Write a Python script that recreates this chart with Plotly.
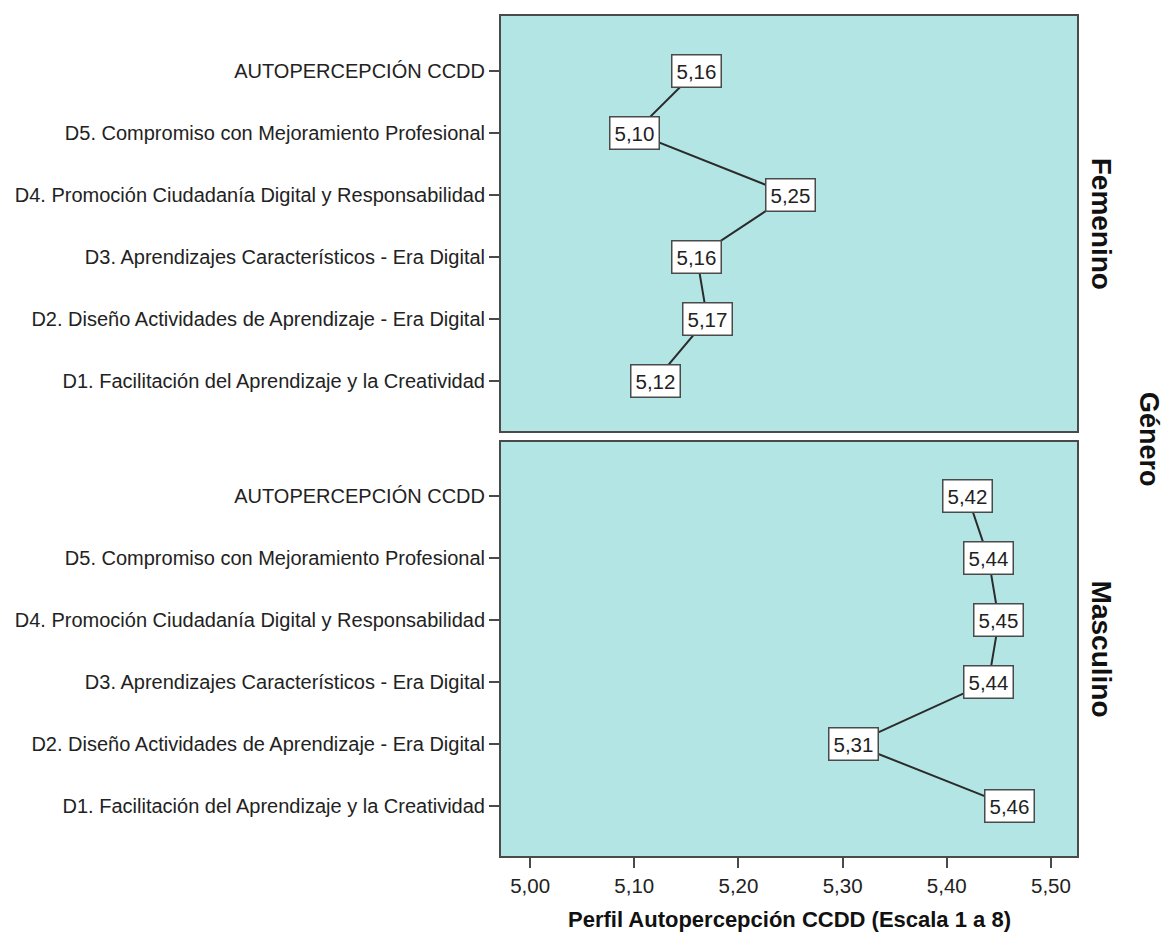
import plotly.graph_objects as go

categories = [
    "D1. Facilitación del Aprendizaje y la Creatividad",
    "D2. Diseño Actividades de Aprendizaje - Era Digital",
    "D3. Aprendizajes Característicos - Era Digital",
    "D4. Promoción Ciudadanía Digital y Responsabilidad",
    "D5. Compromiso con Mejoramiento Profesional",
    "AUTOPERCEPCIÓN CCDD",
]
femenino = [5.12, 5.17, 5.16, 5.25, 5.10, 5.16]
masculino = [5.46, 5.31, 5.44, 5.45, 5.44, 5.42]
x_ticks = [5.00, 5.10, 5.20, 5.30, 5.40, 5.50]
panel_names = ["Femenino", "Masculino"]

FONT = "Liberation Sans, Arial, sans-serif"
BG = "#b4e5e5"
FRAME = "#4a4a4a"
LINE = "#2b2b2b"
XR = [4.972, 5.525]
YR = [-0.81, 5.88]

fig = go.Figure()
fig.add_trace(go.Scatter(x=femenino, y=categories, mode="lines",
                         line=dict(color=LINE, width=2), xaxis="x", yaxis="y",
                         showlegend=False, hoverinfo="skip"))
fig.add_trace(go.Scatter(x=masculino, y=categories, mode="lines",
                         line=dict(color=LINE, width=2), xaxis="x2", yaxis="y2",
                         showlegend=False, hoverinfo="skip"))

def fmt(v):
    return f"{v:.2f}".replace(".", ",")

annotations = []
for vals, xr, yr in [(femenino, "x", "y"), (masculino, "x2", "y2")]:
    for v, c in zip(vals, categories):
        annotations.append(dict(
            x=v, y=c, xref=xr, yref=yr, text=fmt(v), showarrow=False,
            bgcolor="white", bordercolor=FRAME, borderwidth=1.5, borderpad=4,
            font=dict(family=FONT, size=20.5, color="#222")))

annotations += [
    dict(x=1.043, y=0.753, xref="paper", yref="paper", text="<b>%s</b>" % panel_names[0],
         textangle=90, showarrow=False, font=dict(family=FONT, size=28, color="#111"),
         xanchor="center", yanchor="middle"),
    dict(x=1.043, y=0.246, xref="paper", yref="paper", text="<b>%s</b>" % panel_names[1],
         textangle=90, showarrow=False, font=dict(family=FONT, size=28, color="#111"),
         xanchor="center", yanchor="middle"),
    dict(x=1.124, y=0.496, xref="paper", yref="paper", text="<b>Género</b>",
         textangle=90, showarrow=False, font=dict(family=FONT, size=27, color="#111"),
         xanchor="center", yanchor="middle"),
    dict(x=0.501, y=-0.076, xref="paper", yref="paper",
         text="<b>Perfil Autopercepción CCDD (Escala 1 a 8)</b>",
         showarrow=False, font=dict(family=FONT, size=22, color="#111"),
         xanchor="center", yanchor="middle"),
]

common_y = dict(type="category", categoryorder="array", categoryarray=categories,
                range=YR, ticks="outside", ticklen=10, tickwidth=1.5, tickcolor=FRAME,
                showline=True, linecolor=FRAME, linewidth=2, mirror=True,
                showgrid=False, zeroline=False,
                tickfont=dict(family=FONT, size=20, color="#222"))

# page body has an 8px default margin; size the figure so the plot lands where the reference has it
fig.update_layout(
    width=1163, height=927,
    margin=dict(l=493, r=94, t=6, b=79),
    paper_bgcolor="white", plot_bgcolor=BG,
    separators=",.",
    font=dict(family=FONT, color="#222"),
    xaxis=dict(domain=[0, 1], anchor="y", range=XR, showticklabels=False, ticks="",
               showline=True, linecolor=FRAME, linewidth=2, mirror=True,
               showgrid=False, zeroline=False),
    yaxis=dict(domain=[0.506, 1], anchor="x", **common_y),
    xaxis2=dict(domain=[0, 1], anchor="y2", range=XR, tickvals=x_ticks, tickformat=".2f",
                ticks="outside", ticklen=10, tickwidth=1.5, tickcolor=FRAME,
                showline=True, linecolor=FRAME, linewidth=2, mirror=True,
                showgrid=False, zeroline=False,
                tickfont=dict(family=FONT, size=20.5, color="#222")),
    yaxis2=dict(domain=[0, 0.493], anchor="x2", **common_y),
    annotations=annotations,
)

fig.write_html("out.html")
